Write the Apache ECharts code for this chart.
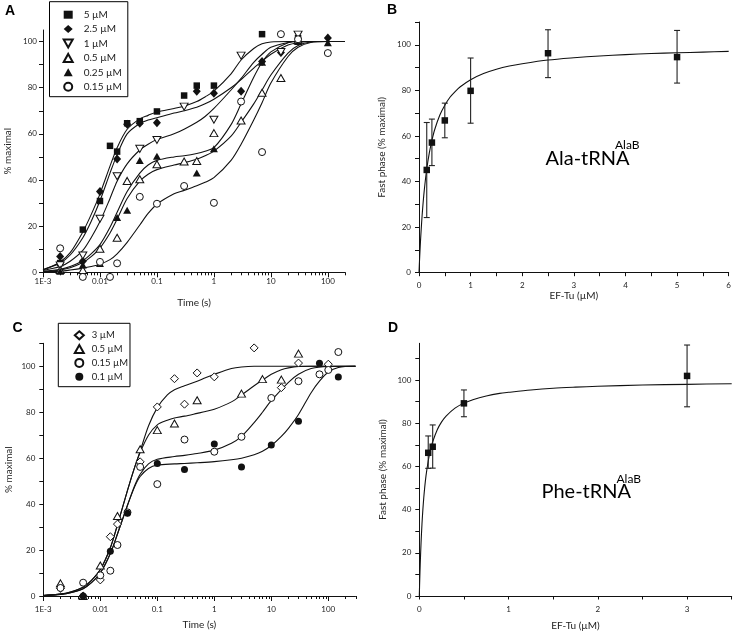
<!DOCTYPE html>
<html><head><meta charset="utf-8">
<script src="https://cdn.jsdelivr.net/npm/echarts@6/dist/echarts.min.js"></script>
<style>html,body{margin:0;padding:0;background:#fff}#c{width:734px;height:634px}</style>
</head><body><div id="c"></div>
<script>
// ---------------- Panel A data (time in s, % maximal) ----------------
const a5uM   = [[0.002,4],[0.005,18.5],[0.01,30.9],[0.015,54.8],[0.02,52.3],[0.03,64.6],[0.05,65.5],[0.1,69.7],[0.3,76.6],[0.5,80.9],[1,80.9],[7,103.2],[30,101.5]];
const a25uM  = [[0.002,6.8],[0.005,4.8],[0.01,35],[0.02,49.1],[0.03,64.2],[0.05,64.6],[0.1,64.8],[0.5,78.5],[1,77.6],[3,78.5],[7,91.4],[15,95.3],[100,101.5]];
const a1uM   = [[0.002,3],[0.005,7.3],[0.01,23.2],[0.02,41.6],[0.05,53.5],[0.1,57.3],[0.3,71.8],[1,66.1],[3,93.9],[15,95.5],[30,103]];
const a05uM  = [[0.002,1],[0.005,1],[0.01,10.2],[0.02,15],[0.03,39.6],[0.05,40.3],[0.1,46.8],[0.3,48],[0.5,48.2],[1,60.3],[3,65.8],[7,77.8],[15,84.2],[30,100.5]];
const a025uM = [[0.002,0.5],[0.005,3.2],[0.01,3.8],[0.02,23.8],[0.03,26.9],[0.05,48.5],[0.1,50.3],[0.5,43],[1,53.5],[7,91],[30,100],[100,99.5]];
const a015uM = [[0.002,10.4],[0.005,-2],[0.01,4.5],[0.015,-2],[0.02,3.9],[0.05,32.7],[0.1,29.7],[0.3,37.4],[1,30.1],[3,74],[7,52.1],[15,103.2],[30,101],[100,95]];

const fitA5uM   = [[0.001,1],[0.002,4.5],[0.003,8.5],[0.005,17.5],[0.007,25],[0.01,34],[0.015,46],[0.02,54],[0.03,62],[0.05,66.5],[0.07,68],[0.1,69.5],[0.2,71],[0.3,72],[0.5,74],[0.7,76],[1,78.5],[2,86],[3,92],[5,97],[7,99],[10,99.8],[20,100],[200,100]];
const fitA25uM  = [[0.001,1.2],[0.002,4],[0.003,7.5],[0.005,15],[0.007,22],[0.01,31],[0.015,43],[0.02,51],[0.03,60],[0.05,64.5],[0.07,66],[0.1,67],[0.2,69],[0.3,70],[0.5,71.5],[0.7,73],[1,75],[2,80],[3,83.5],[5,88.5],[7,91.5],[10,94.5],[20,98.5],[30,99.5],[50,100],[200,100]];
const fitA1uM   = [[0.001,0.8],[0.002,2.5],[0.003,4.8],[0.005,9.5],[0.007,15],[0.01,22],[0.015,32],[0.02,39.5],[0.03,47],[0.05,53],[0.07,55.5],[0.1,57.5],[0.2,60],[0.3,62],[0.5,65],[0.7,67.5],[1,71],[2,79],[3,84],[5,91],[7,94.5],[10,97.5],[20,99.6],[30,100],[200,100]];
const fitA05uM  = [[0.001,0.3],[0.002,1],[0.003,2],[0.005,4.2],[0.007,6.8],[0.01,10.5],[0.015,17],[0.02,23],[0.03,32],[0.05,39.5],[0.07,42.5],[0.1,44.5],[0.2,46.5],[0.3,47.5],[0.5,49],[0.7,50.5],[1,52.5],[2,59],[3,65],[5,73],[7,79],[10,85.5],[20,95],[30,98.3],[50,99.8],[100,100],[200,100]];
const fitA025uM = [[0.001,0.4],[0.002,1.3],[0.003,2.5],[0.005,5],[0.007,8],[0.01,12],[0.015,19.5],[0.02,26],[0.03,35],[0.05,43],[0.07,46.5],[0.1,48.5],[0.2,50],[0.3,50.5],[0.5,51.5],[0.7,52.5],[1,54],[2,64],[3,73],[5,84.5],[7,91],[10,95.5],[20,99.5],[30,100],[200,100]];
const fitA015uM = [[0.001,0.2],[0.002,0.5],[0.003,1],[0.005,1.8],[0.007,2.5],[0.01,3.5],[0.015,5.5],[0.02,8],[0.03,13],[0.05,20.5],[0.07,25.5],[0.1,29.5],[0.2,34],[0.3,35.5],[0.5,37.5],[0.7,39],[1,41],[2,48.5],[3,55.5],[5,66],[7,73.5],[10,82],[20,93.5],[30,97.5],[50,99.6],[100,100],[200,100]];

// ---------------- Panel B data (EF-Tu uM, fast phase %) ----------------
const bEFTu  = [0.15,0.25,0.5,1,2.5,5];
const bFast  = [45.1,57.1,66.8,79.8,96.3,94.6];
const bLow   = [24.2,47,59.2,65.6,85.6,83.2];
const bHigh  = [65.9,67.4,74.4,94.2,106.6,106.3];
const fitB   = [[0,0],[0.01,5.3],[0.02,10],[0.03,14.3],[0.05,21.7],[0.07,28],[0.1,35.7],[0.15,45.5],[0.2,52.6],[0.25,58],[0.3,62.5],[0.4,69],[0.5,73.5],[0.6,77],[0.7,79.5],[0.8,81.6],[1,84.7],[1.25,87.4],[1.5,89.3],[1.75,90.7],[2,91.7],[2.5,93.3],[3,94.3],[3.5,95.1],[4,95.7],[4.5,96.2],[5,96.5],[5.5,96.8],[6,97.1]];

// ---------------- Panel C data ----------------
const c3uM   = [[0.002,3.3],[0.005,0],[0.01,7],[0.015,25.8],[0.02,31.3],[0.05,58.4],[0.1,82.3],[0.2,94.6],[0.3,83.5],[0.5,97.1],[1,95.4],[5,108],[15,90.7],[30,101.4],[100,100.9]];
const c05uM  = [[0.002,5.5],[0.005,0],[0.01,13.3],[0.02,34.8],[0.05,63.9],[0.1,72.2],[0.2,75.1],[0.5,85.2],[3,88.1],[7,94.4],[15,94.2],[30,105.5]];
const c015uM = [[0.002,3.5],[0.005,5.8],[0.01,9],[0.015,11],[0.02,22.2],[0.03,36.4],[0.05,56.2],[0.1,48.7],[0.3,68.1],[1,62.8],[3,69.3],[10,86.2],[30,93.5],[70,96.5],[100,98.4],[150,106.2]];
const c01uM  = [[0.005,0],[0.015,19.5],[0.03,36],[0.1,57.7],[0.3,55.1],[1,66.2],[3,56.2],[10,65.7],[30,76.1],[70,101.3],[150,95.3]];

const fitC3uM   = [[0.001,0.2],[0.002,0.8],[0.003,1.7],[0.005,3.8],[0.007,6.8],[0.01,11.5],[0.015,21],[0.02,31],[0.03,46],[0.04,56],[0.05,63],[0.07,74],[0.1,82],[0.15,87.5],[0.2,89.8],[0.3,91.5],[0.5,93.5],[0.7,95],[1,96.5],[2,99],[3,99.7],[5,100],[300,100]];
const fitC05uM  = [[0.001,0.2],[0.002,0.8],[0.003,1.7],[0.005,3.8],[0.007,6.8],[0.01,11.5],[0.015,21],[0.02,31],[0.03,46],[0.04,56],[0.05,62.5],[0.07,70],[0.1,74.5],[0.15,76.5],[0.2,77.5],[0.3,78.3],[0.5,79.5],[0.7,80.3],[1,81.3],[2,84.5],[3,87.5],[5,91.5],[7,94],[10,96.5],[15,98.5],[20,99.3],[30,99.9],[50,100],[300,100]];
const fitC015uM = [[0.001,0.2],[0.002,0.7],[0.003,1.4],[0.005,3.2],[0.007,5.8],[0.01,10],[0.015,18.5],[0.02,27],[0.03,39.5],[0.04,48],[0.05,53],[0.07,57.5],[0.1,59.5],[0.2,60.7],[0.3,61.2],[0.5,62],[1,63.5],[2,66.5],[3,69.5],[5,75.5],[7,80],[10,85],[20,93],[30,96.5],[50,99],[100,99.9],[300,100]];
const fitC01uM  = [[0.001,0.2],[0.002,0.7],[0.003,1.4],[0.005,3.2],[0.007,5.8],[0.01,10],[0.015,18.5],[0.02,27],[0.03,39.5],[0.04,47.5],[0.05,52],[0.07,55.5],[0.1,57],[0.2,57.5],[0.3,57.7],[0.5,58],[1,58.5],[2,59.3],[3,60],[5,61.5],[7,63],[10,65.5],[15,69.5],[20,73],[30,79],[50,88.5],[70,93.5],[100,97.5],[150,99.5],[300,100]];

// ---------------- Panel D data ----------------
const dEFTu = [0.1,0.15,0.5,3];
const dFast = [66.3,69.1,89.2,101.9];
const dLow  = [59.1,59.2,83,87.6];
const dHigh = [74.1,79.2,95.4,116.2];
const fitD  = [[0,0],[0.005,7.7],[0.01,14.3],[0.02,25],[0.03,33.3],[0.04,40],[0.05,45.5],[0.06,50],[0.075,55.6],[0.1,62.5],[0.125,67.6],[0.15,71.4],[0.2,76.9],[0.25,80.6],[0.3,83.3],[0.4,87],[0.5,89.3],[0.6,90.9],[0.75,92.6],[0.9,93.8],[1,94.3],[1.25,95.4],[1.5,96.2],[1.75,96.7],[2,97.1],[2.5,97.7],[3,98],[3.5,98.3]];

// ---------------- Tick values / labels ----------------
const logTickValues = [0.001,0.01,0.1,1,10,100];
const logTickLabels = ['1E-3','0.01','0.1','1','10','100'];
const logMinorTicks = [0.002,0.003,0.004,0.005,0.006,0.007,0.008,0.009,0.02,0.03,0.04,0.05,0.06,0.07,0.08,0.09,0.2,0.3,0.4,0.5,0.6,0.7,0.8,0.9,2,3,4,5,6,7,8,9,20,30,40,50,60,70,80,90,200,300];
const pctLabels = [0,20,40,60,80,100];
const pctTicksA = [0,10,20,30,40,50,60,70,80,90,100];
const pctTicks110 = [0,10,20,30,40,50,60,70,80,90,100,110];
const bTicksX = [0,0.5,1,1.5,2,2.5,3,3.5,4,4.5,5,5.5,6];
const bLabelsX = [0,1,2,3,4,5,6];
const dTicksX = [0,0.5,1,1.5,2,2.5,3,3.5];
const dLabelsX = [0,1,2,3];

const legendA = ['5 µM','2.5 µM','1 µM','0.5 µM','0.25 µM','0.15 µM'];
const legendC = ['3 µM','0.5 µM','0.15 µM','0.1 µM'];

// ---------------- building the option ----------------
const FONT = 'Lato, "Open Sans", sans-serif';
const INK = '#111';
const LBL = '#222';
const DOWN_TRIANGLE = 'path://M0,0L10,0L5,8.66Z';

function logFmt(v){
  for (let i=0;i<logTickValues.length;i++){
    if (Math.abs(Math.log10(v)-Math.log10(logTickValues[i]))<0.01) return logTickLabels[i];
  }
  return '';
}
function logAxis(grid, max, labelMargin, nameGap){
  return {type:'log', gridIndex:grid, min:0.001, max:max, position:'bottom',
    name:'Time (s)', nameLocation:'middle', nameGap:nameGap,
    nameTextStyle:{fontFamily:FONT, fontSize:10, color:LBL},
    axisLine:{onZero:false, lineStyle:{color:INK,width:1}},
    axisTick:{show:false},
    axisLabel:{customValues:logTickValues, formatter:logFmt, fontFamily:FONT, fontSize:8, color:LBL, margin:labelMargin},
    splitLine:{show:false}, minorTick:{show:false}};
}
// log-axis tick marks (decades long, 2..9 short), positioned by the axis scale
function logTicks(xi, yi, max){
  const data = logTickValues.map(v=>[v,0,1]).concat(logMinorTicks.filter(v=>v<=max*1.0001).map(v=>[v,0,0]));
  return {type:'custom', xAxisIndex:xi, yAxisIndex:yi, silent:true, clip:false, z:2,
    data:data, encode:{x:0, y:1},
    renderItem:function(params, api){
      const c = api.coord([api.value(0), 0]);
      const x = Math.round(c[0]) + 0.5, len = api.value(2) ? 5 : 3;
      return {type:'line', shape:{x1:x, y1:c[1], x2:x, y2:c[1]+len}, style:{stroke:INK, lineWidth:1}};
    }};
}
function valX(grid, max, ticks, labels, nameGap){
  return {type:'value', gridIndex:grid, min:0, max:max, position:'bottom',
    name:'EF-Tu (µM)', nameLocation:'middle', nameGap:nameGap,
    nameTextStyle:{fontFamily:FONT, fontSize:10, color:LBL},
    axisLine:{onZero:false, lineStyle:{color:INK,width:1}},
    axisTick:{customValues:ticks, length:3.5, lineStyle:{color:INK}},
    axisLabel:{customValues:labels, fontFamily:FONT, fontSize:8, color:LBL, margin:9},
    splitLine:{show:false}};
}
function valY(grid, max, ticks, name, nameGap, labelMargin){
  return {type:'value', gridIndex:grid, min:0, max:max,
    name:name, nameLocation:'middle', nameGap:nameGap,
    nameTextStyle:{fontFamily:FONT, fontSize:10, color:LBL},
    axisLine:{show:true, onZero:false, lineStyle:{color:INK,width:1}},
    axisTick:{show:true, customValues:ticks, length:4, lineStyle:{color:INK}},
    axisLabel:{customValues:pctLabels, fontFamily:FONT, fontSize:8, color:LBL, margin:labelMargin},
    splitLine:{show:false}};
}
function pts(name, data, xi, yi, sym, size, filled){
  return {type:'scatter', name:name, data:data, xAxisIndex:xi, yAxisIndex:yi,
    symbol:sym, symbolSize:size, clip:false, z:5, silent:true,
    itemStyle: filled ? {color:INK, borderWidth:0, opacity:1} : {color:'#fff', borderColor:INK, borderWidth:1, opacity:1}};
}
function fitLine(data, xi, yi){
  return {type:'line', data:data, xAxisIndex:xi, yAxisIndex:yi, smooth:0.3,
    showSymbol:false, symbol:'none', lineStyle:{color:INK, width:1.1}, silent:true, z:3, clip:true};
}
function errBars(xs, lows, highs, xi, yi){
  return {type:'custom', xAxisIndex:xi, yAxisIndex:yi, silent:true, clip:false, z:4,
    data: xs.map((x,i)=>[x,lows[i],highs[i]]),
    encode:{x:0, y:[1,2]},
    renderItem:function(params, api){
      const x = api.value(0), p1 = api.coord([x, api.value(1)]), p2 = api.coord([x, api.value(2)]);
      const w = 3, st = {stroke:'#222', lineWidth:1.1};
      return {type:'group', children:[
        {type:'line', shape:{x1:p1[0],y1:p1[1],x2:p2[0],y2:p2[1]}, style:st},
        {type:'line', shape:{x1:p1[0]-w,y1:p1[1],x2:p1[0]+w,y2:p1[1]}, style:st},
        {type:'line', shape:{x1:p2[0]-w,y1:p2[1],x2:p2[0]+w,y2:p2[1]}, style:st}
      ]};
    }};
}
function legendBox(names, left, top, pad, gap, fs, tp){
  return {data:names, orient:'vertical', left:left, top:top, padding:pad, itemGap:gap,
    itemWidth:9, itemHeight:8, borderColor:'#000', borderWidth:1, backgroundColor:'#fff',
    selectedMode:false, textStyle:{fontFamily:FONT, fontSize:fs, color:LBL, lineHeight:12, padding:[0,0,0,tp]}, z:10};
}
function txt(x, y, s, font, align){
  return {type:'text', x:x, y:y, z:20, style:{text:s, font:font, fill:'#000', textAlign:align||'left', align:align||'left', textVerticalAlign:'middle', verticalAlign:'middle'}};
}

const bMeans = bEFTu.map((x,i)=>[x,bFast[i]]);
const dMeans = dEFTu.map((x,i)=>[x,dFast[i]]);

const option = {
  animation:false,
  backgroundColor:'#fff',
  grid:[
    {left:43, top:30, width:302, height:242.3},
    {left:419, top:22, width:311, height:250.7},
    {left:43.3, top:343.3, width:312.2, height:252.7},
    {left:419.3, top:343.3, width:312.4, height:252.7}
  ],
  xAxis:[
    logAxis(0, 200, 5, 25),
    valX(1, 6, bTicksX, bLabelsX, 17),
    logAxis(2, 300, 9, 24),
    valX(3, 3.5, dTicksX, dLabelsX, 25)
  ],
  yAxis:[
    valY(0, 105, pctTicksA, '% maximal', 30, 6),
    valY(1, 110, pctTicks110, 'Fast phase (% maximal)', 32, 8),
    valY(2, 110, pctTicks110, '% maximal', 30, 8),
    valY(3, 117, pctTicks110, 'Fast phase (% maximal)', 32, 8)
  ],
  legend:[
    legendBox(legendA, 49.5, 1.7, [7,6,4,13.2], 2.4, 10, 6),
    legendBox(legendC, 58.3, 323.3, [6,2,4,15.5], 1.8, 9.5, 3)
  ],
  series:[
    logTicks(0,0,200),
    fitLine(fitA5uM,0,0), fitLine(fitA25uM,0,0), fitLine(fitA1uM,0,0),
    fitLine(fitA05uM,0,0), fitLine(fitA025uM,0,0), fitLine(fitA015uM,0,0),
    pts('5 µM', a5uM, 0,0,'rect',6.5,true),
    pts('2.5 µM', a25uM, 0,0,'diamond',[8,9],true),
    pts('1 µM', a1uM, 0,0,DOWN_TRIANGLE,[8,7],false),
    pts('0.5 µM', a05uM, 0,0,'triangle',[8,7],false),
    pts('0.25 µM', a025uM, 0,0,'triangle',[8,7],true),
    pts('0.15 µM', a015uM, 0,0,'circle',7,false),

    fitLine(fitB,1,1),
    errBars(bEFTu,bLow,bHigh,1,1),
    pts('B means', bMeans, 1,1,'rect',6.5,true),

    logTicks(2,2,300),
    fitLine(fitC3uM,2,2), fitLine(fitC05uM,2,2), fitLine(fitC015uM,2,2), fitLine(fitC01uM,2,2),
    pts('3 µM', c3uM, 2,2,'diamond',[8,8],false),
    pts('0.5 µM', c05uM, 2,2,'triangle',[8,7],false),
    pts('0.15 µM', c015uM, 2,2,'circle',7,false),
    pts('0.1 µM', c01uM, 2,2,'circle',7,true),

    fitLine(fitD,3,3),
    errBars(dEFTu,dLow,dHigh,3,3),
    pts('D means', dMeans, 3,3,'rect',6.5,true)
  ],
  graphic:[
    txt(5, 11.5, 'A', 'bold 14px "Liberation Sans", Arial, sans-serif'),
    txt(387, 10.5, 'B', 'bold 14px "Liberation Sans", Arial, sans-serif'),
    txt(12.5, 328, 'C', 'bold 14px "Liberation Sans", Arial, sans-serif'),
    txt(388, 328, 'D', 'bold 14px "Liberation Sans", Arial, sans-serif'),
    txt(545.5, 159, 'Ala-tRNA', '20px ' + FONT),
    txt(615, 145, 'AlaB', '12px ' + FONT),
    txt(541.5, 492, 'Phe-tRNA', '20px ' + FONT),
    txt(616.5, 479.5, 'AlaB', '12px ' + FONT)
  ]
};
const chart = echarts.init(document.getElementById('c'), null, {renderer:'canvas'});
chart.setOption(option);
</script></body></html>
